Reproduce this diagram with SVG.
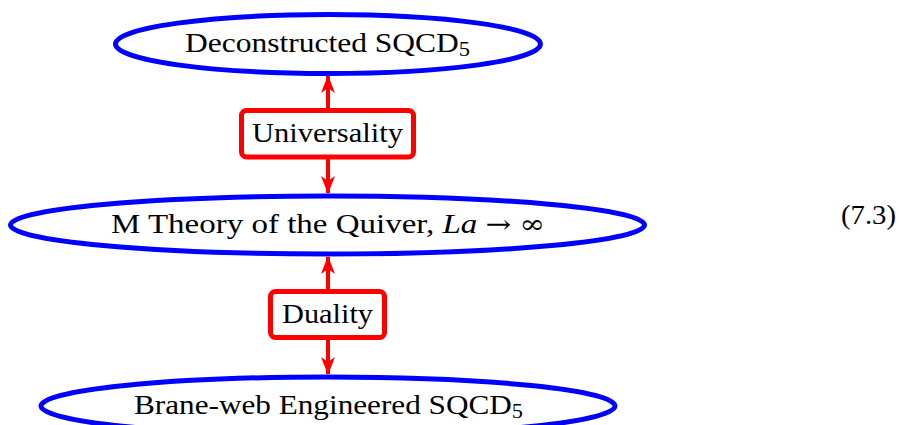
<svg xmlns="http://www.w3.org/2000/svg" width="899" height="425" viewBox="0 0 899 425">
<defs>
<style>
.ell{fill:none;stroke:#0000ff;stroke-width:5}
.box{fill:#ffffff;stroke:#ff0000;stroke-width:5}
.lbl{font-family:"Liberation Serif","Times New Roman",serif;font-size:28px;fill:#000}
.sym{font-family:"DejaVu Serif",serif;font-size:26px}
.con{stroke:#ff0000;stroke-width:4;fill:none}
</style>
<marker id="ah" viewBox="0 0 18 14" refX="17" refY="7" markerWidth="18" markerHeight="14" markerUnits="userSpaceOnUse" orient="auto">
<path d="M0,0 L18,7 L0,14 L5,7 Z" fill="#ff0000"/>
</marker>
</defs>
<rect width="899" height="425" fill="#ffffff"/>
<g id="connectors">
<line class="con" x1="328" y1="110" x2="328" y2="76" marker-end="url(#ah)"/>
<line class="con" x1="328" y1="157" x2="328" y2="193" marker-end="url(#ah)"/>
<line class="con" x1="328" y1="291" x2="328" y2="257" marker-end="url(#ah)"/>
<line class="con" x1="328" y1="338" x2="328" y2="374" marker-end="url(#ah)"/>
</g>
<g id="node-deconstructed">
<ellipse class="ell" cx="328" cy="44" rx="212.5" ry="29.5"/>
<text class="lbl" x="185" y="52" textLength="285" lengthAdjust="spacingAndGlyphs">Deconstructed SQCD<tspan font-size="20" dy="4">5</tspan></text>
</g>
<g id="node-universality">
<rect class="box" x="241.5" y="110.5" width="172" height="46.5" rx="5"/>
<text class="lbl" x="252" y="142" textLength="151" lengthAdjust="spacingAndGlyphs">Universality</text>
</g>
<g id="node-mtheory">
<ellipse class="ell" cx="327.5" cy="225" rx="317" ry="29"/>
<text class="lbl" x="111" y="233" textLength="434" lengthAdjust="spacingAndGlyphs">M Theory of the Quiver, <tspan font-style="italic">La</tspan> <tspan class="sym">→</tspan> <tspan class="sym">∞</tspan></text>
</g>
<g id="node-duality">
<rect class="box" x="270.5" y="291.5" width="114" height="46" rx="5"/>
<text class="lbl" x="282" y="323" textLength="91" lengthAdjust="spacingAndGlyphs">Duality</text>
</g>
<g id="node-braneweb">
<ellipse class="ell" cx="328" cy="406" rx="287" ry="29"/>
<text class="lbl" x="134" y="414" textLength="389" lengthAdjust="spacingAndGlyphs">Brane-web Engineered SQCD<tspan font-size="20" dy="4">5</tspan></text>
</g>
<text class="lbl" x="841" y="224" textLength="55" lengthAdjust="spacingAndGlyphs">(7.3)</text>
</svg>
